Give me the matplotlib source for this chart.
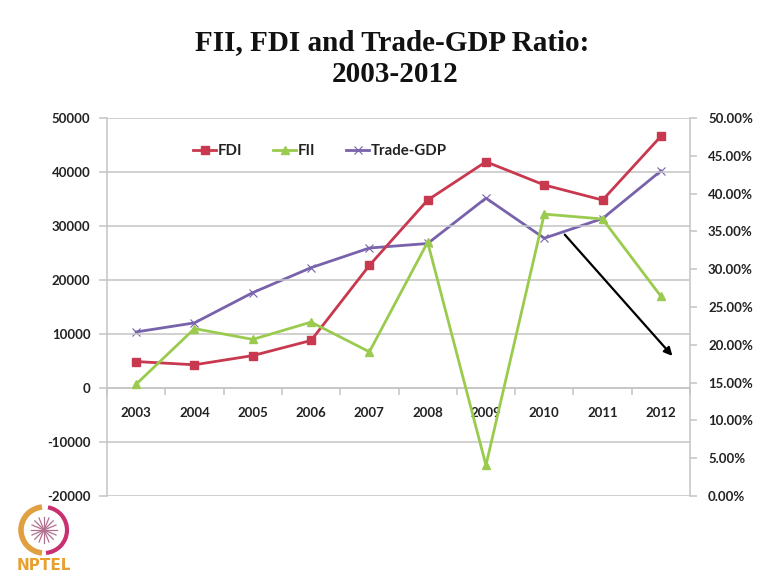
import matplotlib
matplotlib.use("Agg")
import matplotlib.pyplot as plt
from matplotlib.ticker import FuncFormatter, FixedLocator
from matplotlib.patches import Arc
import numpy as np

years = ["2003", "2004", "2005", "2006", "2007", "2008", "2009", "2010", "2011", "2012"]
fdi = [4900, 4300, 6000, 8800, 22700, 34800, 41900, 37600, 34800, 46600]
fii = [700, 11000, 9000, 12200, 6700, 27000, -14300, 32200, 31300, 17000]
trade_gdp = [21.7, 22.9, 26.9, 30.2, 32.8, 33.4, 39.4, 34.1, 36.7, 43.0]

left_ticks = [50000, 40000, 30000, 20000, 10000, 0, -10000, -20000]
right_ticks = [0, 5, 10, 15, 20, 25, 30, 35, 40, 45, 50]

RED = "#C8384E"
GREEN = "#9BCB4E"
PURPLE = "#7862AC"
GRID = "#C4C4C4"
TXT = "#222222"
FONT = "Lato"

W, H = 768, 578
fig = plt.figure(figsize=(W / 100, H / 100), dpi=100)
fig.patch.set_facecolor("white")

# plot area in pixel coordinates
x0, x1, y0, y1 = 107, 690, 118, 496
ax = fig.add_axes([x0 / W, 1 - y1 / H, (x1 - x0) / W, (y1 - y0) / H])
ax2 = ax.twinx()

x = np.arange(len(years))
ax.set_xlim(-0.5, len(years) - 0.5)
ax.set_ylim(-20000, 50000)
ax2.set_ylim(0, 50)

# horizontal gridlines
ax.yaxis.set_major_locator(FixedLocator(left_ticks))
ax.grid(axis="y", color=GRID, linewidth=1.1)
ax.set_axisbelow(True)

for s in ["top", "right"]:
    ax.spines[s].set_visible(False)
for s in ["top", "left", "bottom"]:
    ax2.spines[s].set_visible(False)
ax.spines["left"].set_color(GRID)
ax.spines["left"].set_linewidth(1.1)
ax2.spines["right"].set_color(GRID)
ax2.spines["right"].set_linewidth(1.1)

# category axis crossing at zero
ax.spines["bottom"].set_position(("data", 0))
ax.spines["bottom"].set_color(GRID)
ax.spines["bottom"].set_linewidth(1.1)
ax.set_xticks(x)
ax.set_xticklabels(years)
ax.set_xticks(np.arange(-0.5, len(years) + 0.5, 1), minor=True)
ax.tick_params(axis="x", which="major", length=0, pad=14,
               labelsize=9.5, labelcolor=TXT)
ax.tick_params(axis="x", which="minor", length=5, color=GRID, width=1.1,
               direction="out")

ax.yaxis.set_major_formatter(FuncFormatter(lambda v, p: f"{int(v)}"))
ax.tick_params(axis="y", length=6, color=GRID, width=1.1, pad=6,
               labelsize=9.5, labelcolor=TXT)

ax2.yaxis.set_major_locator(FixedLocator(right_ticks))
ax2.yaxis.set_major_formatter(FuncFormatter(lambda v, p: f"{v:.2f}%"))
ax2.tick_params(axis="y", length=5, color=GRID, width=1.1, pad=8,
                labelsize=9.5, labelcolor=TXT)

for lab in ax.get_xticklabels() + ax.get_yticklabels() + ax2.get_yticklabels():
    lab.set_fontfamily(FONT)
    lab.set_fontweight("bold")

l1, = ax.plot(x, fdi, color=RED, linewidth=2.0, marker="s", markersize=6,
              label="FDI", zorder=3)
l2, = ax.plot(x, fii, color=GREEN, linewidth=2.0, marker="^", markersize=6,
              label="FII", zorder=3)
l3, = ax2.plot(x, trade_gdp, color=PURPLE, linewidth=2.0, marker="x",
               markersize=6, markeredgewidth=0.8, label="Trade-GDP", zorder=3)
ax.set_zorder(ax2.get_zorder() + 1)
ax.patch.set_visible(False)

leg = ax.legend(handles=[l1, l2, l3], loc="upper left",
                bbox_to_anchor=(0.125, 0.967), ncol=3, frameon=False,
                handlelength=1.5, handletextpad=0.1, columnspacing=2.1,
                prop={"family": FONT, "weight": "bold", "size": 10.8})
for t in leg.get_texts():
    t.set_color(TXT)

# trend arrow
ax.annotate("", xy=(0.973, 0.365), xycoords="axes fraction",
            xytext=(0.782, 0.697), textcoords="axes fraction",
            arrowprops=dict(arrowstyle="-|>", color="black", lw=1.6,
                            mutation_scale=12), zorder=5)

# title
fig.text(392 / W, 1 - 43 / H, "FII, FDI and Trade-GDP Ratio:",
         ha="center", va="center", fontsize=21, fontweight="bold",
         family="Liberation Serif", color="#111111")
fig.text(395 / W, 1 - 75 / H, "2003-2012",
         ha="center", va="center", fontsize=21, fontweight="bold",
         family="Liberation Serif", color="#111111")

# NPTEL emblem
lax = fig.add_axes([8 / W, 1 - 576 / H, 74 / W, 76 / H])
lax.set_xlim(0, 74)
lax.set_ylim(0, 76)
lax.set_aspect("equal")
lax.axis("off")
cx, cy = 36, 46
lax.add_patch(Arc((cx, cy), 46, 46, theta1=95, theta2=265, color="#E0A040", lw=4))
lax.add_patch(Arc((cx, cy), 46, 46, theta1=-85, theta2=80, color="#C83070", lw=3))
for a in np.linspace(0, np.pi, 8, endpoint=False):
    dx, dy = 13 * np.cos(a), 13 * np.sin(a)
    lax.plot([cx - dx, cx + dx], [cy - dy, cy + dy], color="#B07090", lw=0.9)
lax.text(36, 10, "NPTEL", ha="center", va="center", fontsize=11,
         fontweight="bold", family="DejaVu Sans", color="#E8A030")

fig.savefig("out.png", dpi=100, facecolor="white")
